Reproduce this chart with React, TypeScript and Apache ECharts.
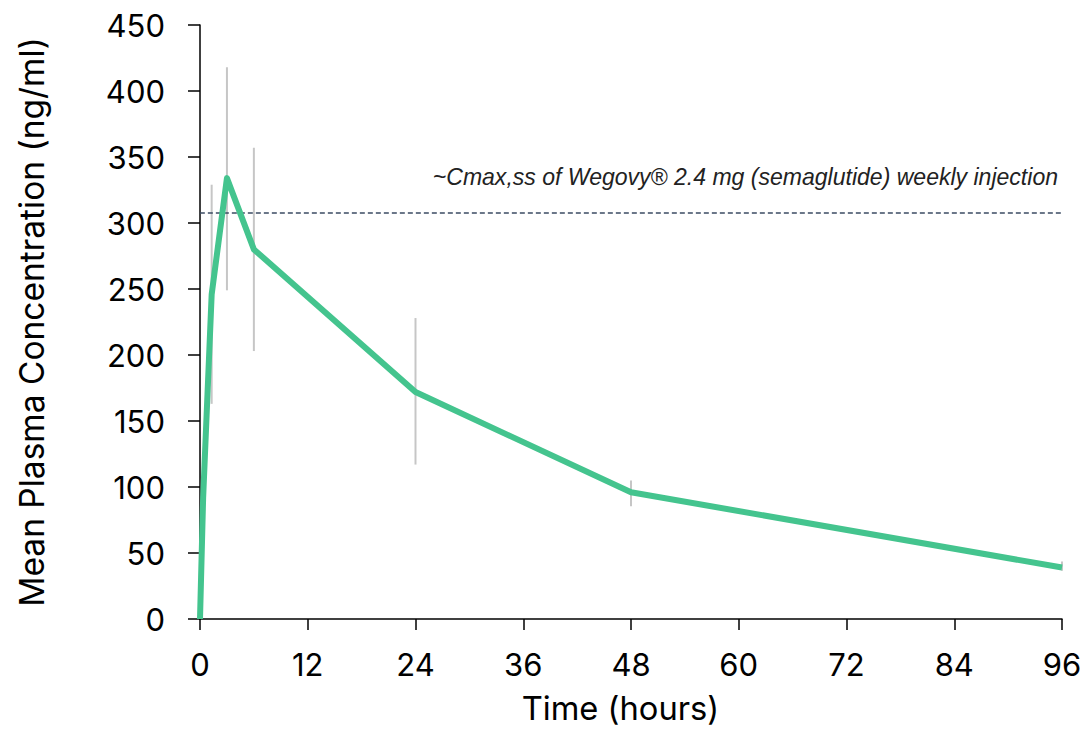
import React, { useEffect, useRef } from "react";
import * as echarts from "echarts";

const times = [0, 0.35, 1.3, 3, 6, 24, 48, 96];
const meanConc = [0, 92, 246, 334, 280, 172, 96, 39];
const errTimes = [1.3, 3, 6, 24, 48, 96];
const errLow = [163, 249, 203, 117, 85.5, 36.5];
const errHigh = [329, 418, 357, 228, 105, 43.5];
const refLevel = 307.5;
const refRange = [-1.8, 96];
const xTicks = [0, 12, 24, 36, 48, 60, 72, 84, 96];
const annotation = "~Cmax,ss of Wegovy® 2.4 mg (semaglutide) weekly injection";

const FONT = "Inter";

export default function App() {
  const ref = useRef<HTMLDivElement>(null);
  useEffect(() => {
    if (!ref.current) return;
    const chart = echarts.init(ref.current, null, { renderer: "svg" });
    const lineData = times.map((t, i) => [t, meanConc[i]]);
    const errData = errTimes.map((t, i) => [t, errLow[i], errHigh[i]]);
    const refData = refRange.map((t) => [t, refLevel]);
    chart.setOption({
      animation: false,
      backgroundColor: "#ffffff",
      grid: { left: 200, right: 25, top: 25, bottom: 107, containLabel: false },
      xAxis: {
        type: "value",
        min: 0,
        max: 96,
        interval: 12,
        name: "Time (hours)",
        nameLocation: "middle",
        nameGap: 72,
        nameTextStyle: { fontFamily: FONT, fontSize: 32.7, color: "#000", padding: [0, 21, 0, 0] },
        axisLine: { show: true, onZero: false, lineStyle: { color: "#000", width: 1.5 } },
        axisTick: { show: true, length: 11, lineStyle: { color: "#000", width: 1.5 } },
        axisLabel: {
          fontFamily: FONT,
          fontSize: 31,
          color: "#000",
          margin: 30,
          customValues: xTicks,
        },
        splitLine: { show: false },
      },
      yAxis: {
        type: "value",
        min: 0,
        max: 450,
        interval: 50,
        name: "Mean Plasma Concentration (ng/ml)",
        nameLocation: "middle",
        nameGap: 151,
        nameTextStyle: { fontFamily: FONT, fontSize: 33.5, color: "#000" },
        axisLine: { show: true, lineStyle: { color: "#000", width: 1.5 } },
        axisTick: { show: true, length: 12, lineStyle: { color: "#000", width: 1.5 } },
        axisLabel: { fontFamily: FONT, fontSize: 31, color: "#000", margin: 35 },
        splitLine: { show: false },
      },
      graphic: [
        {
          type: "text",
          x: 1058,
          y: 177,
          scaleX: 0.96,
          style: {
            text: annotation,
            fontFamily: "Liberation Sans",
            fontStyle: "italic",
            fontSize: 24,
            fill: "#222",
            align: "right",
            verticalAlign: "middle",
          },
        },
      ],
      series: [
        {
          type: "custom",
          z: 1,
          data: errData,
          renderItem: (params: any, api: any) => {
            const p1 = api.coord([api.value(0), api.value(1)]);
            const p2 = api.coord([api.value(0), api.value(2)]);
            return {
              type: "line",
              shape: { x1: p1[0], y1: p1[1], x2: p2[0], y2: p2[1] },
              style: { stroke: "#c6c6c6", lineWidth: 2 },
            };
          },
          silent: true,
        },
        {
          type: "line",
          z: 3,
          data: lineData,
          showSymbol: false,
          symbol: "none",
          lineStyle: { color: "#44c48e", width: 6, join: "round" },
          itemStyle: { color: "#44c48e" },
        },
        {
          type: "line",
          z: 2,
          data: refData,
          clip: false,
          showSymbol: false,
          symbol: "none",
          lineStyle: { color: "#3b4b63", width: 1.5, type: [5, 3] },
        },
      ],
    });
    return () => chart.dispose();
  }, []);
  return (
    <div
      ref={ref}
      style={{ position: "absolute", left: 0, top: 0, width: 1087, height: 729 }}
    />
  );
}
